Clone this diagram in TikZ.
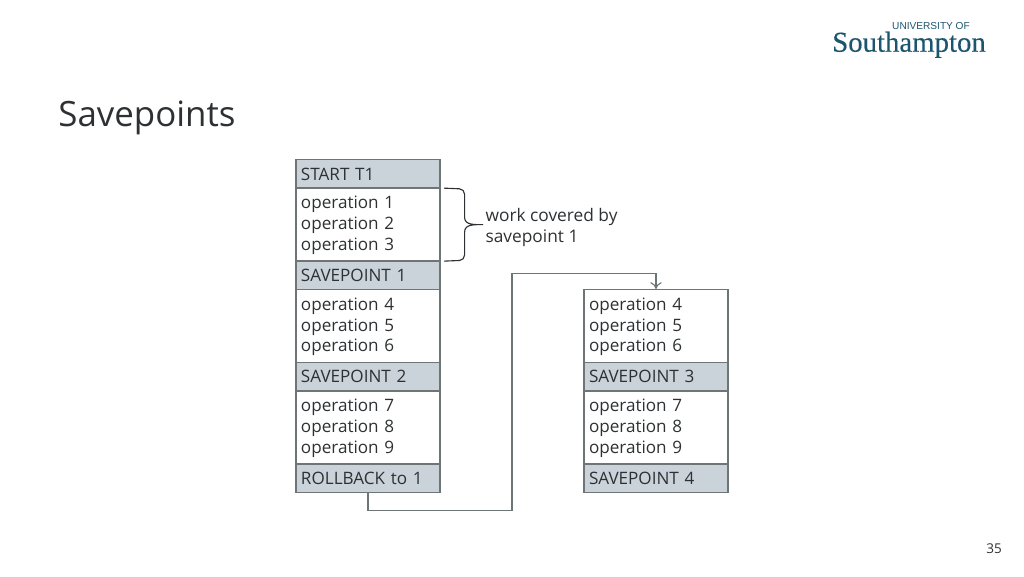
\documentclass[tikz,border=0pt]{standalone}
\usepackage{fontspec}
\setmainfont{Open Sans}
\newfontfamily\logoserif[FakeBold=0.25]{Liberation Serif}
\newfontfamily\logosans{Liberation Sans}
\usepackage{tikz}
\usetikzlibrary{positioning,arrows.meta}
\definecolor{rowgrey}{HTML}{C9D3D9}
\definecolor{rowline}{HTML}{6F7477}
\definecolor{inktext}{HTML}{2E3133}
\definecolor{logoblue}{HTML}{1C566E}
\tikzset{
  oprow/.style={draw=rowline, line width=0.5pt, fill=white, text=inktext, minimum width=2.25cm,
    text width=2.094cm, inner xsep=0.078cm, inner ysep=0pt, minimum height=1.14cm, align=left,
    text height=6.4pt, font=\fontsize{7.6}{9.2}\selectfont},
  markrow/.style={oprow, fill=rowgrey, minimum height=0.445cm, text height=5.8pt},
  link/.style={draw=rowline, line width=0.5pt},
  plain/.style={text=inktext, inner sep=0pt, align=left}
}
\begin{document}
\begin{tikzpicture}
\useasboundingbox (0,0) rectangle (16,9);

\node[plain, anchor=west, font=\fontsize{15.5}{18}\selectfont] (title) at (0.906,7.16) {Savepoints};

% logo
\node[inner sep=0pt, text=logoblue, anchor=east, font=\fontsize{4.5}{5}\logosans] (logotop) at (15.16,8.6) {UNIVERSITY OF};
\node[inner sep=0pt, text=logoblue, anchor=east, font=\fontsize{12.8}{14}\logoserif] (logomain) at (15.41,8.3) {Southampton};

% left column
\node[markrow] (start) at (5.75,6.281) {START T1};
\node[oprow] (opsa) at (5.75,5.492) {operation 1\\operation 2\\operation 3};
\node[markrow] (savea) at (5.75,4.695) {SAVEPOINT 1};
\node[oprow] (opsb) at (5.75,3.906) {operation 4\\operation 5\\operation 6};
\node[markrow] (saveb) at (5.75,3.117) {SAVEPOINT 2};
\node[oprow] (opsc) at (5.75,2.320) {operation 7\\operation 8\\operation 9};
\node[markrow] (rollback) at (5.75,1.523) {ROLLBACK to 1};

% right column
\node[oprow] (opsd) at (10.25,3.906) {operation 4\\operation 5\\operation 6};
\node[markrow] (savec) at (10.25,3.117) {SAVEPOINT 3};
\node[oprow] (opse) at (10.25,2.320) {operation 7\\operation 8\\operation 9};
\node[markrow] (saved) at (10.25,1.523) {SAVEPOINT 4};

% brace and its label
\node[plain, anchor=west, font=\fontsize{7.7}{9.2}\selectfont] (work) at (7.58,5.45) {work covered by\\savepoint 1};
\coordinate (bracetop) at (6.94,6.06);
\coordinate (bracebot) at (6.94,4.92);
\coordinate (bracetip) at (7.55,5.49);
\draw[link, draw=inktext] (bracetop) -- (7.18,6.05) to[out=0,in=90] (7.26,5.96) -- (7.26,5.6)
  to[out=-90,in=180] (bracetip) to[out=180,in=90] (7.26,5.38) -- (7.26,5.02)
  to[out=-90,in=0] (7.18,4.93) -- (bracebot);

% rollback jump
\draw[link, -{To[length=3pt,width=5pt]}] (rollback.south) -- ++(0,-0.27) -| (8,4.73) -| (opsd.north);

\node[plain, anchor=east, font=\fontsize{6}{7}\selectfont] (pagenum) at (15.66,0.43) {35};
\end{tikzpicture}
\end{document}
